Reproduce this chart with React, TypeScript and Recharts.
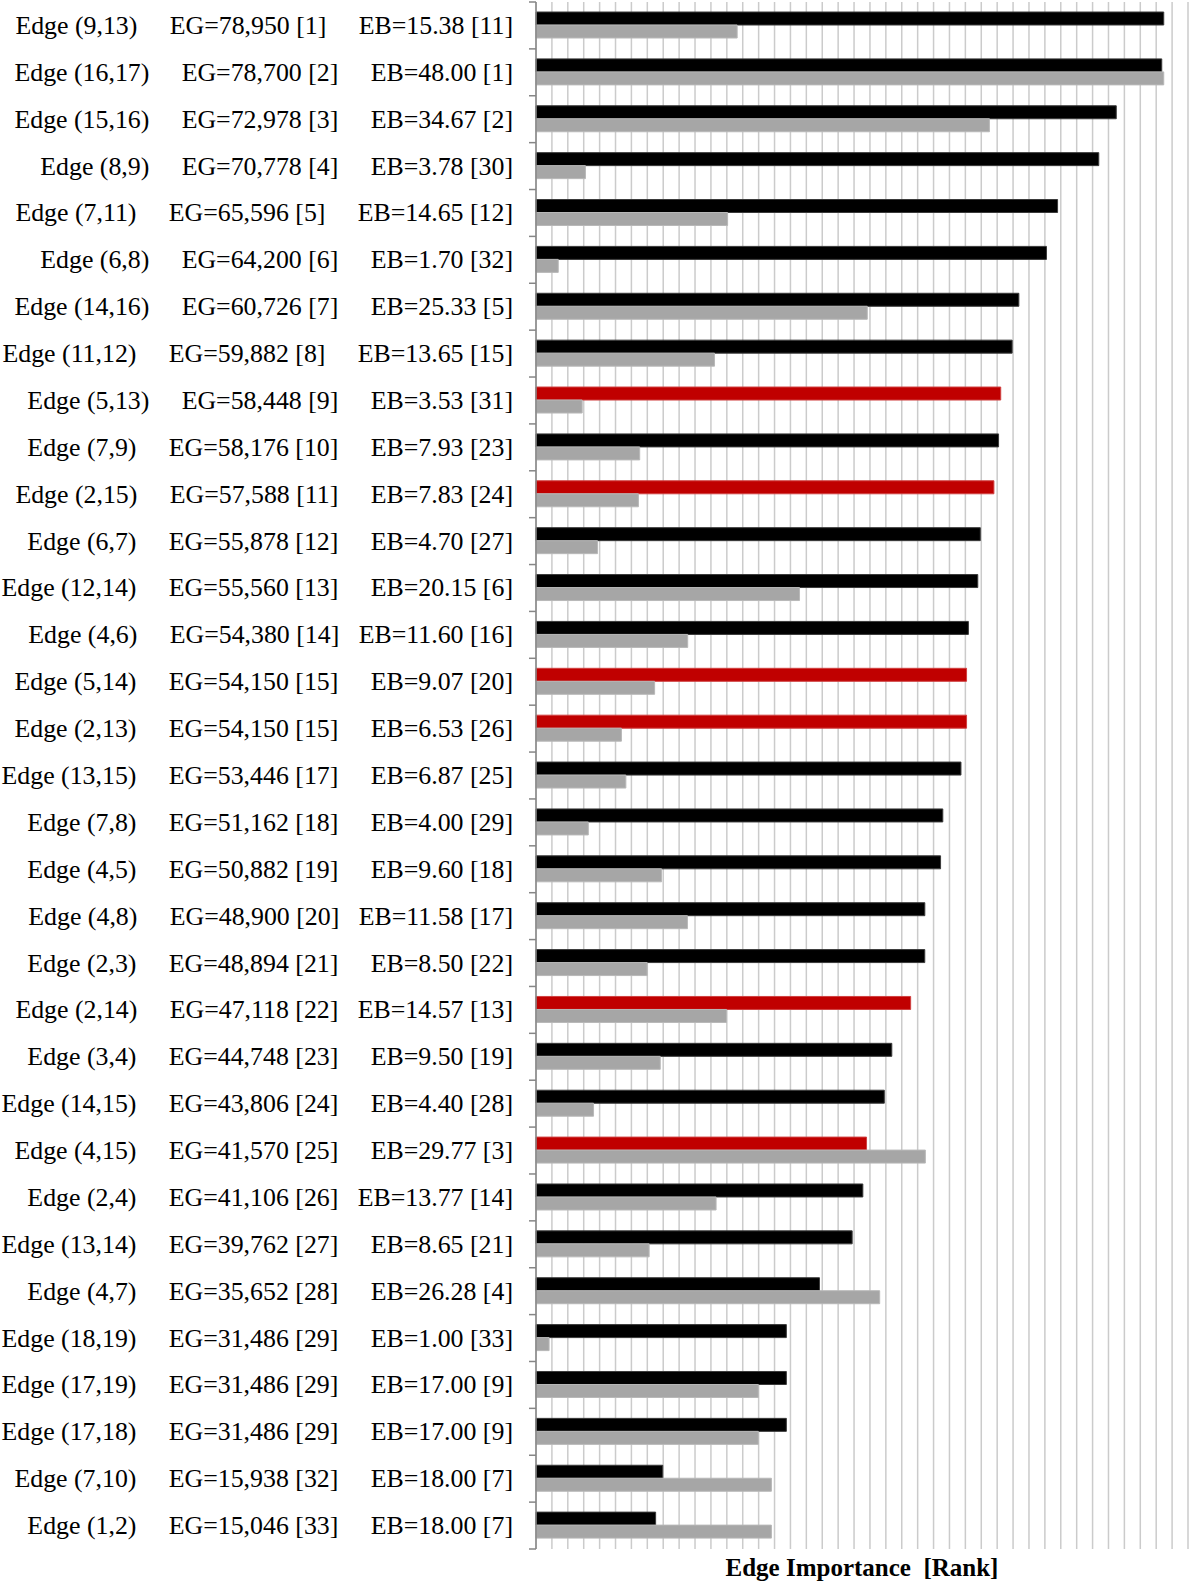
import React from "react"
import { BarChart, Bar, XAxis, YAxis, CartesianGrid, Cell, Label } from "recharts"

// Edges in the order they are listed (sorted by EG)
const edges = [
    "(9,13)", "(16,17)", "(15,16)", "(8,9)", "(7,11)", "(6,8)", "(14,16)", "(11,12)",
    "(5,13)", "(7,9)", "(2,15)", "(6,7)", "(12,14)", "(4,6)", "(5,14)", "(2,13)",
    "(13,15)", "(7,8)", "(4,5)", "(4,8)", "(2,3)", "(2,14)", "(3,4)", "(14,15)",
    "(4,15)", "(2,4)", "(13,14)", "(4,7)", "(18,19)", "(17,19)", "(17,18)", "(7,10)", "(1,2)",
]
const egValues = [
    78950, 78700, 72978, 70778, 65596, 64200, 60726, 59882,
    58448, 58176, 57588, 55878, 55560, 54380, 54150, 54150,
    53446, 51162, 50882, 48900, 48894, 47118, 44748, 43806,
    41570, 41106, 39762, 35652, 31486, 31486, 31486, 15938, 15046,
]
const egRanks = [
    1, 2, 3, 4, 5, 6, 7, 8, 9, 10, 11, 12, 13, 14, 15, 15,
    17, 18, 19, 20, 21, 22, 23, 24, 25, 26, 27, 28, 29, 29, 29, 32, 33,
]
const ebValues = [
    15.38, 48.0, 34.67, 3.78, 14.65, 1.7, 25.33, 13.65,
    3.53, 7.93, 7.83, 4.7, 20.15, 11.6, 9.07, 6.53,
    6.87, 4.0, 9.6, 11.58, 8.5, 14.57, 9.5, 4.4,
    29.77, 13.77, 8.65, 26.28, 1.0, 17.0, 17.0, 18.0, 18.0,
]
const ebRanks = [
    11, 1, 2, 30, 12, 32, 5, 15, 31, 23, 24, 27, 6, 16, 20, 26,
    25, 29, 18, 17, 22, 13, 19, 28, 3, 14, 21, 4, 33, 9, 9, 7, 7,
]
// edges drawn in red
const highlighted = ["(5,13)", "(2,15)", "(5,14)", "(2,13)", "(2,14)", "(4,15)"]
// rows typed with a shorter gap before the EB column
const narrowGap = ["(4,6)", "(4,8)", "(2,14)", "(2,4)"]

const xTicks = [
    0, 2000, 4000, 6000, 8000, 10000, 12000, 14000, 16000, 18000, 20000,
    22000, 24000, 26000, 28000, 30000, 32000, 34000, 36000, 38000, 40000,
    42000, 44000, 46000, 48000, 50000, 52000, 54000, 56000, 58000, 60000,
    62000, 64000, 66000, 68000, 70000, 72000, 74000, 76000, 78000, 80000, 82000,
]

const W = 1190
const H = 1583
const MARGIN = { top: 2, right: 2, bottom: 0, left: 0 }
const Y_AXIS_WIDTH = 536
const X_AXIS_HEIGHT = 34
const PLOT_H = H - MARGIN.top - MARGIN.bottom - X_AXIS_HEIGHT
const BAND = PLOT_H / edges.length
const AXIS_X = MARGIN.left + Y_AXIS_WIDTH
const FONT = "'Liberation Serif', 'Times New Roman', serif"
const AXIS_COLOR = "#868686"

const egMax = Math.max(...egValues)
const ebMax = Math.max(...ebValues)

const pad = (n: number) => "\u00a0".repeat(n)

const data = edges.map((edge, i) => ({
    label:
        `Edge ${edge}${pad(5)}EG=${egValues[i].toLocaleString("en-US")} [${egRanks[i]}]` +
        `${pad(narrowGap.includes(edge) ? 3 : 5)}EB=${ebValues[i].toFixed(2)} [${ebRanks[i]}]`,
    eg: egValues[i],
    // EB scaled so that its maximum lines up with the EG maximum
    eb: (ebValues[i] * egMax) / ebMax,
    red: highlighted.includes(edge),
}))

// Category label plus Excel-style tick marks between categories
const EdgeTick = (props: { x?: number; y?: number; index?: number; payload?: { value: string } }) => {
    const { x = 0, y = 0, index = 0, payload } = props
    const top = y - BAND / 2
    return (
        <g>
            <line x1={AXIS_X - 7} x2={AXIS_X} y1={top} y2={top} stroke={AXIS_COLOR} strokeWidth={1.5} />
            {index === edges.length - 1 && (
                <line x1={AXIS_X - 7} x2={AXIS_X} y1={top + BAND} y2={top + BAND} stroke={AXIS_COLOR} strokeWidth={1.5} />
            )}
            <text
                x={x}
                y={y}
                textAnchor="end"
                dominantBaseline="central"
                fontFamily={FONT}
                fontSize={25.85}
                fill="#000"
            >
                {payload?.value}
            </text>
        </g>
    )
}

// x axis has no tick labels, only the gridlines
const NoTick = () => <g />

const AxisTitle = (props: { viewBox?: { x: number; y: number; width: number; height: number } }) => {
    const vb = props.viewBox
    if (!vb) return null
    return (
        <text
            x={vb.x + vb.width / 2}
            y={vb.y + 18}
            textAnchor="middle"
            dominantBaseline="central"
            fontFamily={FONT}
            fontSize={25}
            fontWeight="bold"
            fill="#000"
        >
            {"Edge Importance \u00a0[Rank]"}
        </text>
    )
}

export default function App() {
    return (
        <div style={{ position: "absolute", left: 0, top: 0, width: W, height: H, background: "#fff" }}>
            <BarChart width={W} height={H} data={data} layout="vertical" margin={MARGIN} barGap={0}>
                <CartesianGrid horizontal={false} vertical stroke="#cbcbcb" strokeWidth={1.5} />
                <XAxis
                    type="number"
                    domain={[0, 82000]}
                    ticks={xTicks}
                    interval={0}
                    tick={<NoTick />}
                    tickLine={false}
                    axisLine={false}
                    height={X_AXIS_HEIGHT}
                >
                    <Label content={<AxisTitle />} />
                </XAxis>
                <YAxis
                    type="category"
                    dataKey="label"
                    width={Y_AXIS_WIDTH}
                    interval={0}
                    tickLine={false}
                    tickSize={7}
                    tickMargin={16}
                    axisLine={{ stroke: AXIS_COLOR, strokeWidth: 1.5 }}
                    tick={<EdgeTick />}
                />
                <Bar dataKey="eg" barSize={13} fill="#000" stroke="#3a3a3a" strokeWidth={1} isAnimationActive={false}>
                    {data.map((d, i) => (
                        <Cell key={i} fill={d.red ? "#c00000" : "#000"} stroke={d.red ? "#d04040" : "#3a3a3a"} />
                    ))}
                </Bar>
                <Bar dataKey="eb" barSize={13} fill="#a6a6a6" stroke="#b8b8b8" strokeWidth={1} isAnimationActive={false} />
            </BarChart>
        </div>
    )
}
